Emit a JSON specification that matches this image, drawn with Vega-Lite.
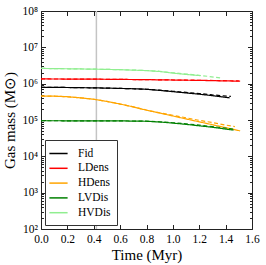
{
  "$schema": "https://vega.github.io/schema/vega-lite/v6.json",
  "autosize": "none",
  "padding": {"left": 41, "top": 11, "right": 14, "bottom": 36},
  "width": 211,
  "height": 218,
  "config": {
    "view": {"stroke": null},
    "font": "Liberation Serif",
    "axis": {
      "labelFont": "Liberation Serif",
      "titleFont": "Liberation Serif",
      "labelFontSize": 12,
      "titleFontSize": 15,
      "titleFontWeight": "normal",
      "labelColor": "#000",
      "titleColor": "#000",
      "domainColor": "#222",
      "tickColor": "#222",
      "grid": false,
      "labelFlush": false,
      "labelOverlap": false
    },
    "legend": {
      "orient": "bottom-left",
      "offset": 4,
      "strokeColor": "#333",
      "fillColor": "white",
      "padding": 6,
      "labelFont": "Liberation Serif",
      "labelFontSize": 11.5,
      "labelColor": "#000",
      "symbolType": "M-1.4,0L1.4,0",
      "symbolSize": 169,
      "symbolStrokeWidth": 1.5,
      "rowPadding": 1.8,
      "labelOffset": 12,
      "cornerRadius": 0
    }
  },
  "datasets": {
    "runs": [
      {"t": 0, "m": 794000, "run": "Fid", "res": "a"},
      {"t": 0.2, "m": 785000, "run": "Fid", "res": "a"},
      {"t": 0.4, "m": 767000, "run": "Fid", "res": "a"},
      {"t": 0.6, "m": 741000, "run": "Fid", "res": "a"},
      {"t": 0.7, "m": 724000, "run": "Fid", "res": "a"},
      {"t": 0.8, "m": 700000, "run": "Fid", "res": "a"},
      {"t": 0.9, "m": 653000, "run": "Fid", "res": "a"},
      {"t": 1.0, "m": 603000, "run": "Fid", "res": "a"},
      {"t": 1.1, "m": 556000, "run": "Fid", "res": "a"},
      {"t": 1.2, "m": 513000, "run": "Fid", "res": "a"},
      {"t": 1.3, "m": 468000, "run": "Fid", "res": "a"},
      {"t": 1.43, "m": 407000, "run": "Fid", "res": "a"},
      {"t": 0, "m": 794000, "run": "Fid", "res": "b"},
      {"t": 0.2, "m": 785000, "run": "Fid", "res": "b"},
      {"t": 0.4, "m": 767000, "run": "Fid", "res": "b"},
      {"t": 0.6, "m": 741000, "run": "Fid", "res": "b"},
      {"t": 0.7, "m": 724000, "run": "Fid", "res": "b"},
      {"t": 0.8, "m": 702000, "run": "Fid", "res": "b"},
      {"t": 0.9, "m": 661000, "run": "Fid", "res": "b"},
      {"t": 1.0, "m": 617000, "run": "Fid", "res": "b"},
      {"t": 1.1, "m": 575000, "run": "Fid", "res": "b"},
      {"t": 1.2, "m": 537000, "run": "Fid", "res": "b"},
      {"t": 1.3, "m": 490000, "run": "Fid", "res": "b"},
      {"t": 1.44, "m": 447000, "run": "Fid", "res": "b"},
      {"t": 0, "m": 1350000, "run": "LDens", "res": "a"},
      {"t": 0.4, "m": 1330000, "run": "LDens", "res": "a"},
      {"t": 0.8, "m": 1290000, "run": "LDens", "res": "a"},
      {"t": 1.2, "m": 1230000, "run": "LDens", "res": "a"},
      {"t": 1.51, "m": 1170000, "run": "LDens", "res": "a"},
      {"t": 0, "m": 1350000, "run": "LDens", "res": "b"},
      {"t": 0.4, "m": 1330000, "run": "LDens", "res": "b"},
      {"t": 0.8, "m": 1290000, "run": "LDens", "res": "b"},
      {"t": 1.2, "m": 1240000, "run": "LDens", "res": "b"},
      {"t": 1.5, "m": 1190000, "run": "LDens", "res": "b"},
      {"t": 0, "m": 457000, "run": "HDens", "res": "a"},
      {"t": 0.1, "m": 452000, "run": "HDens", "res": "a"},
      {"t": 0.2, "m": 437000, "run": "HDens", "res": "a"},
      {"t": 0.3, "m": 407000, "run": "HDens", "res": "a"},
      {"t": 0.4, "m": 372000, "run": "HDens", "res": "a"},
      {"t": 0.5, "m": 324000, "run": "HDens", "res": "a"},
      {"t": 0.6, "m": 275000, "run": "HDens", "res": "a"},
      {"t": 0.7, "m": 229000, "run": "HDens", "res": "a"},
      {"t": 0.8, "m": 186000, "run": "HDens", "res": "a"},
      {"t": 0.9, "m": 155000, "run": "HDens", "res": "a"},
      {"t": 1.0, "m": 129000, "run": "HDens", "res": "a"},
      {"t": 1.1, "m": 107000, "run": "HDens", "res": "a"},
      {"t": 1.2, "m": 89100, "run": "HDens", "res": "a"},
      {"t": 1.3, "m": 74100, "run": "HDens", "res": "a"},
      {"t": 1.4, "m": 61700, "run": "HDens", "res": "a"},
      {"t": 1.51, "m": 50100, "run": "HDens", "res": "a"},
      {"t": 0, "m": 457000, "run": "HDens", "res": "b"},
      {"t": 0.1, "m": 452000, "run": "HDens", "res": "b"},
      {"t": 0.2, "m": 437000, "run": "HDens", "res": "b"},
      {"t": 0.3, "m": 407000, "run": "HDens", "res": "b"},
      {"t": 0.4, "m": 372000, "run": "HDens", "res": "b"},
      {"t": 0.5, "m": 324000, "run": "HDens", "res": "b"},
      {"t": 0.6, "m": 275000, "run": "HDens", "res": "b"},
      {"t": 0.7, "m": 229000, "run": "HDens", "res": "b"},
      {"t": 0.8, "m": 188000, "run": "HDens", "res": "b"},
      {"t": 0.9, "m": 158000, "run": "HDens", "res": "b"},
      {"t": 1.0, "m": 135000, "run": "HDens", "res": "b"},
      {"t": 1.1, "m": 115000, "run": "HDens", "res": "b"},
      {"t": 1.2, "m": 97700, "run": "HDens", "res": "b"},
      {"t": 1.3, "m": 85100, "run": "HDens", "res": "b"},
      {"t": 1.4, "m": 72400, "run": "HDens", "res": "b"},
      {"t": 1.47, "m": 66100, "run": "HDens", "res": "b"},
      {"t": 0, "m": 95500, "run": "LVDis", "res": "a"},
      {"t": 0.6, "m": 94400, "run": "LVDis", "res": "a"},
      {"t": 0.8, "m": 92300, "run": "LVDis", "res": "a"},
      {"t": 0.9, "m": 88100, "run": "LVDis", "res": "a"},
      {"t": 1.0, "m": 82200, "run": "LVDis", "res": "a"},
      {"t": 1.1, "m": 75900, "run": "LVDis", "res": "a"},
      {"t": 1.2, "m": 69200, "run": "LVDis", "res": "a"},
      {"t": 1.3, "m": 63100, "run": "LVDis", "res": "a"},
      {"t": 1.46, "m": 52500, "run": "LVDis", "res": "a"},
      {"t": 0, "m": 95500, "run": "LVDis", "res": "b"},
      {"t": 0.6, "m": 94400, "run": "LVDis", "res": "b"},
      {"t": 0.8, "m": 92900, "run": "LVDis", "res": "b"},
      {"t": 0.9, "m": 89100, "run": "LVDis", "res": "b"},
      {"t": 1.0, "m": 84100, "run": "LVDis", "res": "b"},
      {"t": 1.1, "m": 78500, "run": "LVDis", "res": "b"},
      {"t": 1.2, "m": 72400, "run": "LVDis", "res": "b"},
      {"t": 1.3, "m": 66100, "run": "LVDis", "res": "b"},
      {"t": 1.46, "m": 56200, "run": "LVDis", "res": "b"},
      {"t": 0, "m": 2630000, "run": "HVDis", "res": "a"},
      {"t": 0.4, "m": 2510000, "run": "HVDis", "res": "a"},
      {"t": 0.6, "m": 2427000, "run": "HVDis", "res": "a"},
      {"t": 0.8, "m": 2291000, "run": "HVDis", "res": "a"},
      {"t": 0.9, "m": 2163000, "run": "HVDis", "res": "a"},
      {"t": 1.0, "m": 1950000, "run": "HVDis", "res": "a"},
      {"t": 1.1, "m": 1799000, "run": "HVDis", "res": "a"},
      {"t": 1.21, "m": 1660000, "run": "HVDis", "res": "a"},
      {"t": 0, "m": 2630000, "run": "HVDis", "res": "b"},
      {"t": 0.4, "m": 2510000, "run": "HVDis", "res": "b"},
      {"t": 0.6, "m": 2427000, "run": "HVDis", "res": "b"},
      {"t": 0.8, "m": 2300000, "run": "HVDis", "res": "b"},
      {"t": 0.9, "m": 2188000, "run": "HVDis", "res": "b"},
      {"t": 1.0, "m": 1995000, "run": "HVDis", "res": "b"},
      {"t": 1.1, "m": 1841000, "run": "HVDis", "res": "b"},
      {"t": 1.2, "m": 1698000, "run": "HVDis", "res": "b"},
      {"t": 1.36, "m": 1445000, "run": "HVDis", "res": "b"}
    ],
    "marker": [{"tr": 0.42}]
  },
  "resolve": {"axis": {"x": "independent", "y": "independent"}},
  "layer": [
    {
      "data": {"name": "marker"},
      "mark": {"type": "rule", "color": "#c4c4c4", "strokeWidth": 1.5},
      "encoding": {
        "x": {"field": "tr", "type": "quantitative",
          "scale": {"domain": [0, 1.6], "nice": false, "zero": false},
          "axis": {"orient": "top", "values": [0, 0.2, 0.4, 0.6, 0.8, 1.0, 1.2, 1.4, 1.6], "labels": false, "tickSize": -4.5, "title": null}}
      }
    },
    {
      "data": {"name": "runs"},
      "mark": {"type": "line", "strokeWidth": 1.2},
      "encoding": {
        "x": {"field": "t", "type": "quantitative",
          "scale": {"domain": [0, 1.6], "nice": false, "zero": false},
          "axis": {"orient": "bottom", "values": [0, 0.2, 0.4, 0.6, 0.8, 1.0, 1.2, 1.4, 1.6], "format": ".1f", "labelFontSize": 11.5, "tickSize": -4.5, "labelPadding": 9, "title": "Time (Myr)", "titlePadding": 2.5}},
        "y": {"field": "m", "type": "quantitative",
          "scale": {"type": "log", "domain": [100, 100000000], "nice": false},
          "axis": {"orient": "left", "values": [100, 1000, 10000, 100000, 1000000, 10000000, 100000000], "labelFontSize": 11.5, "tickSize": -4.5, "labelPadding": 8, "labelBaseline": "middle",
            "labelExpr": "'10' + ['⁰','¹','²','³','⁴','⁵','⁶','⁷','⁸'][round(log(datum.value)/LN10)]",
            "title": "Gas mass (M⊙)", "titlePadding": 4}},
        "color": {"field": "run", "type": "nominal",
          "scale": {"domain": ["Fid", "LDens", "HDens", "LVDis", "HVDis"], "range": ["#000000", "#ff0000", "#ffa500", "#008000", "#90ee90"]},
          "legend": {"title": null}},
        "strokeDash": {"field": "res", "type": "nominal",
          "scale": {"domain": ["a", "b"], "range": [[1, 0], [4, 2.5]]},
          "legend": null},
        "detail": {"field": "res"}
      }
    },
    {
      "data": {"name": "runs"},
      "mark": {"type": "point", "opacity": 0},
      "encoding": {
        "x": {"field": "t", "type": "quantitative", "axis": null},
        "y": {"field": "m", "type": "quantitative",
          "axis": {"orient": "right", "values": [100, 1000, 10000, 100000, 1000000, 10000000, 100000000], "labels": false, "tickSize": -4.5, "title": null}}
      }
    },
    {
      "data": {"name": "runs"},
      "mark": {"type": "point", "opacity": 0},
      "encoding": {
        "x": {"field": "t", "type": "quantitative", "axis": null},
        "y": {"field": "m", "type": "quantitative",
          "axis": {"orient": "left", "domain": false, "labels": false, "tickSize": -2.5, "title": null,
            "values": [200,300,400,500,600,700,800,900,2000,3000,4000,5000,6000,7000,8000,9000,20000,30000,40000,50000,60000,70000,80000,90000,200000,300000,400000,500000,600000,700000,800000,900000,2000000,3000000,4000000,5000000,6000000,7000000,8000000,9000000,20000000,30000000,40000000,50000000,60000000,70000000,80000000,90000000]}}
      }
    },
    {
      "data": {"name": "runs"},
      "mark": {"type": "point", "opacity": 0},
      "encoding": {
        "x": {"field": "t", "type": "quantitative", "axis": null},
        "y": {"field": "m", "type": "quantitative",
          "axis": {"orient": "right", "domain": false, "labels": false, "tickSize": -2.5, "title": null,
            "values": [200,300,400,500,600,700,800,900,2000,3000,4000,5000,6000,7000,8000,9000,20000,30000,40000,50000,60000,70000,80000,90000,200000,300000,400000,500000,600000,700000,800000,900000,2000000,3000000,4000000,5000000,6000000,7000000,8000000,9000000,20000000,30000000,40000000,50000000,60000000,70000000,80000000,90000000]}}
      }
    }
  ]
}
